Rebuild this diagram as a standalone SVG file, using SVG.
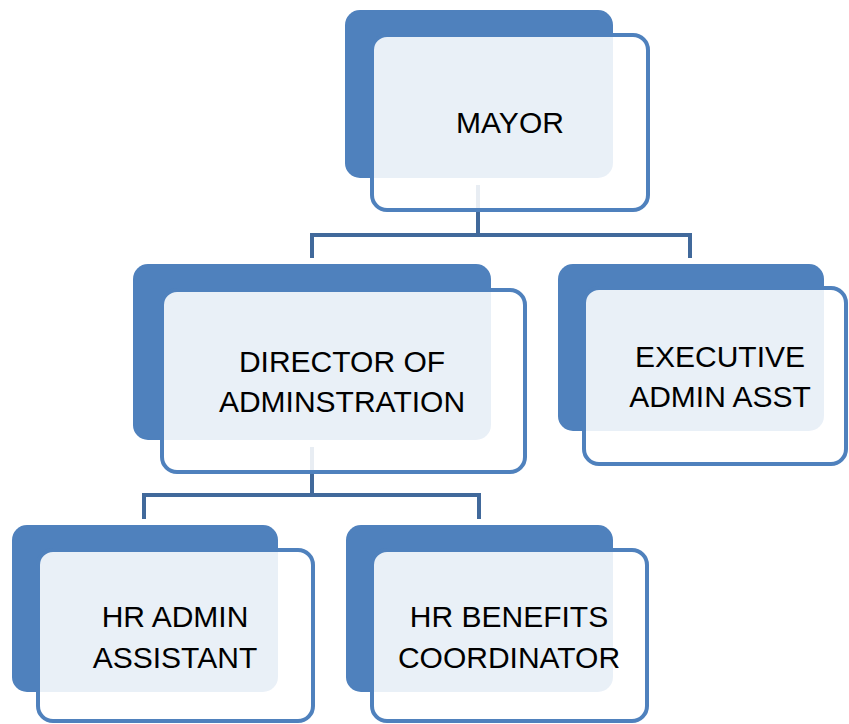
<svg xmlns="http://www.w3.org/2000/svg" width="849" height="724" viewBox="0 0 849 724">
<style>
.back{fill:#4F81BD}
.front{fill:#FFFFFF;fill-opacity:0.88;stroke:#4F81BD;stroke-width:4}
.conn{fill:none;stroke:#41699B;stroke-width:4}
text{font-family:"Liberation Sans",Arial,sans-serif;font-size:30px;fill:#000;text-anchor:middle}
</style>
<rect width="849" height="724" fill="#FFFFFF"/>
<g id="connectors">
<path class="conn" d="M478,185 V235 M312,258 V235 H690 V258"/>
<path class="conn" d="M312,447 V495 M144,519 V495 H479 V519"/>
</g>
<g id="mayor">
<rect class="back" x="345" y="10" width="268" height="168" rx="15"/>
<rect class="front" x="372" y="35" width="276" height="175" rx="15"/>
<text x="510" y="133">MAYOR</text>
</g>
<g id="director">
<rect class="back" x="133" y="264" width="358" height="176" rx="15"/>
<rect class="front" x="162" y="290" width="363" height="182" rx="15"/>
<text x="342" y="372">DIRECTOR OF</text>
<text x="342" y="412">ADMINSTRATION</text>
</g>
<g id="exec">
<rect class="back" x="558" y="264" width="266" height="167" rx="15"/>
<rect class="front" x="584" y="288" width="262" height="176" rx="15"/>
<text x="720" y="367">EXECUTIVE</text>
<text x="720" y="407">ADMIN ASST</text>
</g>
<g id="hr-admin">
<rect class="back" x="12" y="525" width="266" height="167" rx="15"/>
<rect class="front" x="38" y="550" width="275" height="171" rx="15"/>
<text x="175" y="627">HR ADMIN</text>
<text x="175" y="668">ASSISTANT</text>
</g>
<g id="hr-benefits">
<rect class="back" x="346" y="525" width="267" height="167" rx="15"/>
<rect class="front" x="372" y="550" width="275" height="171" rx="15"/>
<text x="509" y="627">HR BENEFITS</text>
<text x="509" y="668">COORDINATOR</text>
</g>
</svg>
